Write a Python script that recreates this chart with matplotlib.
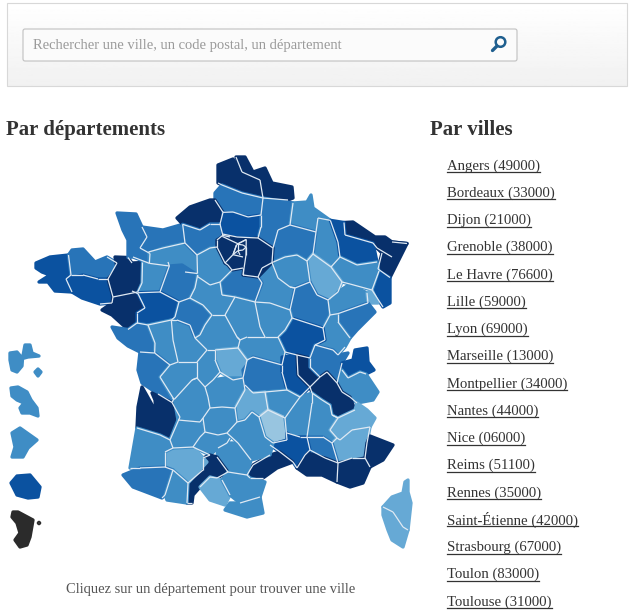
import numpy as np
import matplotlib
matplotlib.use('Agg')
import matplotlib.pyplot as plt
from matplotlib.collections import PolyCollection, LineCollection
from matplotlib.colors import ListedColormap, BoundaryNorm
from matplotlib.patches import Circle, FancyBboxPatch, Rectangle

plt.rcParams['font.family'] = ['Liberation Serif', 'DejaVu Serif']

# villes et codes postaux
cities = ['Angers', 'Bordeaux', 'Dijon', 'Grenoble', 'Le Havre', 'Lille', 'Lyon', 'Marseille',
          'Montpellier', 'Nantes', 'Nice', 'Reims', 'Rennes', 'Saint-Étienne', 'Strasbourg',
          'Toulon', 'Toulouse']
postcodes = ['49000', '33000', '21000', '38000', '76600', '59000', '69000', '13000',
             '34000', '44000', '06000', '51100', '35000', '42000', '67000', '83000', '31000']

# classe de couleur de chaque departement : 0 le plus fonce, 5 le plus clair, 6 sans donnee
dept_class = {
    '29': 1, '22': 2, '56': 1, '35': 0, '44': 0, '50': 2, '14': 2, '61': 3, '53': 3, '72': 2,
    '49': 1, '85': 2, '79': 3, '86': 3, '37': 2, '59': 0, '62': 0, '80': 2, '76': 0, '27': 2,
    '60': 1, '02': 2, '08': 3, '55': 3, '57': 0, '67': 0, '54': 1, '68': 1, '88': 3, '51': 2,
    '52': 4, '10': 3, '89': 3, '21': 2, '70': 3, '90': 4, '25': 2, '39': 3, '71': 1, '58': 3,
    '45': 2, '18': 3, '41': 3, '28': 3, '36': 3, '03': 3, '77': 0, '95': 0, '78': 0, '91': 0,
    '92': 0, '93': 0, '94': 0, '75': 0, '17': 2, '33': 0, '16': 3, '24': 3, '23': 4, '87': 3,
    '19': 3, '63': 2, '42': 1, '69': 0, '01': 2, '74': 1, '73': 3, '38': 0, '43': 3, '15': 4,
    '48': 5, '07': 3, '26': 3, '05': 4, '04': 4, '84': 2, '30': 1, '13': 0, '83': 0, '06': 0,
    '34': 0, '12': 3, '46': 3, '82': 3, '81': 3, '31': 0, '32': 4, '47': 3, '40': 3, '64': 2,
    '65': 3, '09': 4, '11': 3, '66': 3, '2A': 4, '2B': 4, '971': 3, '971b': 3, '972': 3,
    '973': 3, '974': 1, '976': 6, '976b': 6,
}

class_colors = ['#08306b', '#0b52a0', '#2874b8', '#3f8dc5', '#66a9d5', '#98c5e0', '#2b2b2b']

# contours des departements, en pixels de la carte
dept_shapes = {
    '29': [(36, 263), (50, 257), (67, 255), (71, 275), (66, 279), (72, 292), (55, 291), (48, 282), (39, 282), (50, 275), (42, 272), (36, 268)],
    '22': [(70, 255), (72, 250), (83, 249), (95, 262), (107, 257), (117, 263), (108, 277), (98, 279), (83, 275), (71, 275)],
    '56': [(66, 279), (83, 275), (98, 279), (108, 280), (113, 297), (112, 303), (100, 304), (82, 298), (72, 292)],
    '35': [(115, 257), (128, 258), (132, 263), (142, 262), (142, 283), (137, 290), (113, 297), (108, 280), (117, 268)],
    '44': [(113, 297), (132, 291), (138, 295), (145, 308), (137, 313), (137, 323), (128, 329), (112, 315), (102, 310), (112, 303)],
    '50': [(117, 213), (136, 214), (142, 227), (147, 237), (140, 248), (150, 255), (148, 262), (133, 257), (128, 257), (128, 240), (123, 230)],
    '14': [(142, 227), (163, 230), (182, 225), (185, 243), (163, 248), (147, 252), (140, 248), (147, 237)],
    '61': [(150, 252), (163, 248), (185, 243), (197, 255), (198, 272), (185, 272), (168, 266), (150, 264)],
    '53': [(143, 263), (150, 264), (168, 262), (170, 266), (160, 292), (138, 293), (142, 283)],
    '72': [(170, 266), (182, 265), (197, 275), (195, 288), (190, 298), (179, 302), (160, 292)],
    '49': [(138, 293), (160, 292), (179, 302), (175, 317), (170, 320), (148, 325), (137, 323), (137, 313), (145, 308)],
    '85': [(112, 327), (128, 330), (137, 323), (148, 325), (155, 343), (154, 353), (140, 352), (128, 346), (118, 338)],
    '79': [(148, 325), (172, 320), (173, 340), (178, 362), (170, 365), (155, 353), (155, 343)],
    '86': [(172, 320), (177, 320), (190, 325), (195, 338), (207, 350), (197, 362), (178, 362), (173, 340)],
    '37': [(179, 302), (190, 298), (203, 305), (212, 315), (205, 325), (200, 335), (195, 338), (190, 325), (177, 320), (175, 317)],
    '59': [(236, 157), (245, 157), (253, 172), (265, 168), (272, 183), (292, 187), (293, 198), (288, 200), (263, 197), (260, 180), (242, 172)],
    '62': [(218, 165), (233, 159), (242, 172), (260, 180), (263, 197), (242, 193), (222, 185), (218, 183)],
    '80': [(215, 193), (222, 185), (242, 193), (263, 198), (261, 215), (248, 217), (233, 212), (223, 212), (215, 200)],
    '76': [(177, 218), (190, 207), (210, 200), (215, 200), (223, 212), (220, 224), (210, 224), (200, 230), (183, 224)],
    '27': [(183, 224), (200, 230), (210, 224), (220, 224), (223, 233), (222, 235), (217, 240), (217, 247), (210, 248), (197, 255), (185, 243)],
    '60': [(223, 213), (248, 217), (261, 215), (261, 227), (258, 238), (237, 237), (223, 233)],
    '02': [(263, 200), (293, 203), (290, 225), (278, 230), (273, 248), (258, 238), (261, 227), (261, 215)],
    '08': [(293, 203), (307, 202), (311, 195), (313, 208), (330, 220), (318, 218), (316, 232), (290, 225)],
    '55': [(318, 218), (330, 220), (338, 242), (340, 257), (331, 267), (313, 254), (316, 232)],
    '57': [(345, 223), (353, 222), (375, 237), (385, 237), (392, 242), (407, 243), (392, 257), (377, 248), (373, 243), (345, 235)],
    '67': [(377, 248), (392, 242), (407, 244), (390, 277), (378, 268), (382, 253)],
    '54': [(331, 221), (343, 222), (345, 235), (373, 243), (377, 262), (357, 265), (340, 257), (338, 242)],
    '68': [(380, 272), (390, 278), (390, 303), (383, 307), (372, 290)],
    '88': [(331, 267), (340, 257), (357, 265), (377, 262), (378, 270), (372, 290), (350, 284), (342, 282)],
    '51': [(278, 230), (290, 225), (316, 232), (313, 254), (307, 261), (297, 255), (285, 257), (272, 262), (273, 248)],
    '52': [(307, 261), (313, 254), (331, 267), (342, 282), (338, 292), (328, 300), (317, 295), (310, 282)],
    '10': [(272, 262), (285, 257), (297, 255), (307, 261), (310, 282), (295, 288), (290, 287), (278, 278)],
    '89': [(258, 277), (262, 268), (272, 262), (278, 278), (290, 287), (295, 288), (290, 310), (270, 303), (255, 302), (262, 283)],
    '21': [(295, 288), (310, 282), (317, 295), (328, 300), (330, 315), (323, 328), (292, 318), (290, 310)],
    '70': [(330, 303), (338, 292), (350, 284), (367, 293), (368, 303), (338, 313), (330, 315)],
    '90': [(367, 293), (372, 290), (378, 303), (368, 303)],
    '25': [(338, 313), (368, 303), (375, 312), (357, 330), (350, 338), (338, 322)],
    '39': [(323, 328), (330, 315), (338, 315), (338, 322), (350, 338), (345, 347), (338, 355), (333, 350), (315, 345), (325, 340)],
    '71': [(292, 318), (323, 328), (325, 340), (315, 345), (310, 358), (297, 355), (285, 352), (278, 337), (285, 330)],
    '58': [(255, 302), (270, 303), (290, 310), (292, 318), (285, 330), (278, 337), (265, 337), (260, 327)],
    '45': [(220, 282), (232, 270), (243, 268), (243, 275), (258, 277), (262, 283), (255, 302), (235, 297), (222, 295)],
    '18': [(235, 297), (255, 302), (260, 327), (265, 337), (247, 337), (240, 340), (237, 337), (225, 315)],
    '41': [(197, 275), (198, 278), (210, 285), (220, 282), (222, 295), (235, 297), (225, 315), (212, 315), (203, 305), (190, 298), (195, 288)],
    '28': [(197, 255), (210, 248), (217, 247), (225, 263), (228, 265), (232, 270), (220, 282), (210, 285), (198, 278), (198, 272)],
    '36': [(212, 315), (225, 315), (237, 337), (240, 340), (238, 348), (215, 350), (207, 350), (195, 338), (200, 335), (205, 325)],
    '03': [(238, 348), (240, 340), (247, 337), (265, 337), (278, 337), (285, 352), (282, 365), (253, 357), (247, 360)],
    '77': [(247, 240), (258, 238), (273, 248), (272, 262), (272, 265), (258, 277), (243, 275), (246, 255)],
    '95': [(222, 235), (230, 237), (245, 238), (247, 240), (238, 243), (223, 238)],
    '78': [(217, 240), (223, 238), (235, 245), (232, 255), (225, 263), (217, 247)],
    '91': [(232, 255), (243, 257), (243, 268), (232, 270), (228, 265), (225, 263)],
    '92': [(235, 245), (238, 243), (238, 252), (235, 254)],
    '93': [(238, 243), (246, 240), (246, 247), (243, 245), (238, 245)],
    '94': [(238, 250), (243, 250), (246, 247), (246, 255), (240, 255)],
    '75': [(238, 245), (243, 245), (243, 250), (238, 250)],
    '17': [(140, 352), (155, 353), (170, 365), (160, 377), (173, 398), (172, 402), (158, 394), (142, 383), (138, 370)],
    '33': [(142, 387), (146, 394), (155, 412), (157, 412), (155, 400), (152, 393), (160, 397), (172, 403), (180, 417), (170, 440), (160, 435), (137, 428), (138, 407)],
    '16': [(160, 377), (170, 365), (178, 362), (197, 362), (197, 378), (192, 380), (175, 400), (172, 398)],
    '24': [(175, 400), (192, 380), (197, 378), (205, 387), (208, 397), (210, 408), (203, 418), (200, 422), (178, 420)],
    '23': [(215, 350), (238, 348), (247, 360), (243, 378), (233, 380), (220, 372), (215, 360)],
    '87': [(197, 362), (207, 350), (215, 350), (215, 360), (220, 372), (213, 380), (205, 387), (197, 378)],
    '19': [(205, 387), (213, 380), (225, 378), (243, 378), (245, 390), (235, 408), (222, 407), (210, 408), (208, 397)],
    '63': [(243, 370), (253, 357), (282, 365), (282, 372), (287, 390), (265, 392), (253, 393), (245, 385)],
    '42': [(282, 357), (297, 355), (298, 375), (310, 387), (300, 397), (287, 390), (282, 372)],
    '69': [(297, 355), (310, 358), (310, 367), (320, 377), (310, 387), (298, 375)],
    '01': [(310, 358), (315, 345), (333, 350), (338, 355), (348, 353), (342, 363), (337, 383), (327, 372), (320, 377), (310, 367)],
    '74': [(342, 363), (353, 360), (355, 350), (367, 348), (368, 362), (374, 370), (365, 373), (360, 372), (348, 378), (342, 370)],
    '73': [(337, 383), (342, 370), (348, 378), (360, 372), (367, 375), (378, 392), (373, 400), (357, 403), (350, 397), (342, 392)],
    '38': [(310, 387), (320, 377), (327, 372), (337, 383), (342, 392), (350, 397), (355, 410), (338, 418), (332, 415), (330, 405), (322, 400), (312, 393)],
    '43': [(265, 392), (287, 390), (300, 397), (292, 408), (285, 418), (268, 410)],
    '15': [(235, 408), (245, 390), (253, 393), (265, 392), (268, 410), (259, 417), (252, 412), (245, 420), (237, 422)],
    '48': [(259, 417), (268, 410), (285, 418), (287, 440), (273, 443), (265, 437)],
    '07': [(312, 393), (312, 403), (307, 437), (300, 437), (287, 433), (285, 418), (300, 397)],
    '26': [(312, 393), (322, 400), (330, 405), (332, 415), (338, 418), (330, 430), (337, 438), (332, 443), (323, 437), (307, 437), (312, 403)],
    '05': [(338, 418), (355, 410), (357, 403), (367, 410), (375, 418), (370, 427), (352, 430), (340, 440), (337, 438), (330, 430)],
    '04': [(332, 443), (337, 438), (352, 430), (370, 427), (367, 443), (365, 458), (352, 458), (338, 463)],
    '84': [(307, 437), (323, 437), (332, 443), (338, 463), (325, 458), (310, 450)],
    '30': [(270, 445), (287, 440), (287, 433), (293, 437), (307, 437), (310, 450), (305, 455), (297, 468), (293, 462), (280, 452)],
    '13': [(297, 468), (308, 453), (325, 458), (338, 463), (337, 482), (322, 475), (307, 475)],
    '83': [(338, 463), (365, 458), (370, 467), (363, 483), (350, 487), (337, 482)],
    '06': [(367, 443), (370, 436), (393, 445), (383, 460), (370, 467), (365, 458)],
    '34': [(247, 475), (253, 465), (270, 455), (280, 452), (293, 462), (277, 468), (263, 478), (250, 478)],
    '12': [(237, 422), (245, 420), (252, 412), (259, 417), (265, 437), (273, 443), (270, 455), (253, 460), (250, 460), (238, 443), (227, 433)],
    '46': [(210, 408), (222, 407), (235, 408), (237, 422), (227, 433), (218, 435), (205, 432), (203, 418)],
    '82': [(200, 437), (205, 432), (218, 435), (227, 433), (230, 438), (227, 443), (218, 448), (210, 455), (193, 447)],
    '81': [(218, 448), (227, 443), (238, 443), (250, 460), (247, 475), (228, 472), (217, 457)],
    '31': [(203, 458), (210, 455), (217, 457), (228, 472), (217, 478), (210, 477), (200, 487), (193, 495), (192, 503), (187, 503), (188, 483), (203, 470)],
    '32': [(165, 452), (173, 448), (193, 447), (207, 462), (188, 483), (173, 470), (165, 467)],
    '47': [(170, 440), (178, 420), (200, 422), (202, 428), (200, 437), (193, 447), (173, 448)],
    '40': [(137, 428), (160, 435), (170, 440), (173, 448), (165, 452), (165, 467), (140, 468), (130, 468)],
    '64': [(123, 475), (140, 468), (165, 467), (173, 470), (165, 495), (162, 498), (133, 487)],
    '65': [(173, 470), (188, 483), (187, 503), (167, 500), (165, 495)],
    '09': [(210, 477), (222, 480), (230, 495), (225, 505), (210, 500), (200, 487)],
    '11': [(222, 480), (228, 472), (247, 475), (250, 478), (265, 482), (260, 497), (240, 503), (230, 495)],
    '66': [(225, 510), (230, 503), (240, 503), (260, 497), (263, 513), (247, 517)],
    '2A': [(383, 507), (393, 512), (403, 527), (408, 530), (403, 547), (392, 540), (388, 530), (383, 515)],
    '2B': [(405, 482), (408, 480), (408, 492), (411, 503), (408, 530), (403, 527), (393, 512), (383, 507), (392, 497), (403, 493)],
    '971': [(10, 353), (17, 352), (22, 357), (25, 345), (30, 345), (32, 353), (39, 356), (28, 357), (23, 360), (22, 366), (17, 372), (12, 370), (10, 360)],
    '971b': [(35, 372), (38, 369), (41, 372), (38, 376)],
    '972': [(11, 388), (18, 387), (27, 392), (31, 400), (37, 408), (38, 416), (30, 413), (22, 413), (20, 408), (24, 403), (17, 400), (12, 396)],
    '973': [(12, 433), (20, 428), (37, 440), (28, 448), (23, 457), (12, 457), (15, 447)],
    '974': [(11, 483), (17, 476), (30, 475), (40, 487), (38, 497), (28, 498), (17, 495)],
    '976': [(13, 512), (18, 512), (33, 520), (30, 537), (27, 545), (20, 547), (15, 540), (20, 533), (17, 523), (12, 517)],
    '976b': [(37, 523), (39, 521), (41, 523), (39, 525)],
}


def snap_vertices(shapes, tol=3.5):
    """Rapproche les sommets voisins pour que les frontieres coincident"""
    pts = np.array([p for s in shapes.values() for p in s], dtype=float)
    snapped = pts.copy()
    for i in range(len(pts)):
        near = np.hypot(*(pts - pts[i]).T) < tol
        snapped[i] = pts[near].mean(axis=0)
    out = {}
    k = 0
    for code, s in shapes.items():
        out[code] = snapped[k:k + len(s)]
        k += len(s)
    return out


def dist_to_poly(p, poly):
    a = poly
    b = np.roll(poly, -1, axis=0)
    ab = b - a
    t = np.clip(((p - a) * ab).sum(axis=1) / np.maximum((ab ** 2).sum(axis=1), 1e-9), 0, 1)
    return np.hypot(*(a + ab * t[:, None] - p).T).min()


fig = plt.figure(figsize=(6.30, 6.16), dpi=100)
ax = fig.add_axes([0, 0, 1, 1])
ax.set_xlim(0, 630)
ax.set_ylim(616, 0)
ax.axis('off')

# bandeau de recherche
gradient = np.linspace(1.0, 0.945, 64).reshape(-1, 1)
ax.imshow(gradient, extent=(7, 627, 86, 3), cmap='gray', vmin=0, vmax=1, aspect='auto', zorder=1)
ax.add_patch(Rectangle((7, 3), 620, 83, fill=False, edgecolor='#d8d8d8', linewidth=0.8, zorder=2))
ax.add_patch(FancyBboxPatch((23, 29), 494, 32, boxstyle='round,pad=0,rounding_size=2',
                            facecolor='#fbfbfb', edgecolor='#c0c0c0', linewidth=0.8, zorder=3))
ax.text(33, 45, 'Rechercher une ville, un code postal, un département', fontsize=10.5,
        color='#9a9a9a', va='center', zorder=4)
ax.add_patch(Circle((500.5, 42), 4.8, fill=False, edgecolor='#1f5f8f', linewidth=1.8, zorder=4))
ax.plot([497, 492.5], [46, 50.5], color='#1f5f8f', linewidth=2.4, solid_capstyle='round', zorder=4)

ax.text(6, 130, 'Par départements', fontsize=15, fontweight='bold', color='#333333', va='center')
ax.text(430, 130, 'Par villes', fontsize=15, fontweight='bold', color='#333333', va='center')

# carte
shapes = snap_vertices(dept_shapes)
codes = list(shapes)
cmap = ListedColormap(class_colors)
norm = BoundaryNorm(np.arange(-0.5, 7.5), cmap.N)
polys = PolyCollection([shapes[c] for c in codes],
                       array=np.array([dept_class[c] for c in codes]),
                       cmap=cmap, norm=norm, edgecolors='face', linewidths=2.4, zorder=5)
ax.add_collection(polys)

# frontieres interieures seulement, chacune une fois
borders = []
for i, c in enumerate(codes):
    poly = shapes[c]
    for a, b in zip(poly, np.roll(poly, -1, axis=0)):
        mid = (a + b) / 2
        if any(dist_to_poly(mid, shapes[o]) < 3.5 for o in codes[i + 1:]):
            borders.append([a, b])
ax.add_collection(LineCollection(borders, colors='#dfe9f3', linewidths=0.9, zorder=6))

ax.text(211, 589, 'Cliquez sur un département pour trouver une ville', fontsize=10.45,
        color='#555555', ha='center', va='center')

# liste des villes
fig.canvas.draw()
renderer = fig.canvas.get_renderer()
inv = ax.transData.inverted()
for i, (city, code) in enumerate(zip(cities, postcodes)):
    y = 166 + i * 27.25
    t = ax.text(447, y, f'{city} ({code})', fontsize=10.6, color='#333333', va='center')
    box = t.get_window_extent(renderer)
    x_end = inv.transform((box.x1, box.y0))[0]
    ax.plot([447, x_end], [y + 6, y + 6], color='#333333', linewidth=0.9)

fig.savefig('out.png', dpi=100)
